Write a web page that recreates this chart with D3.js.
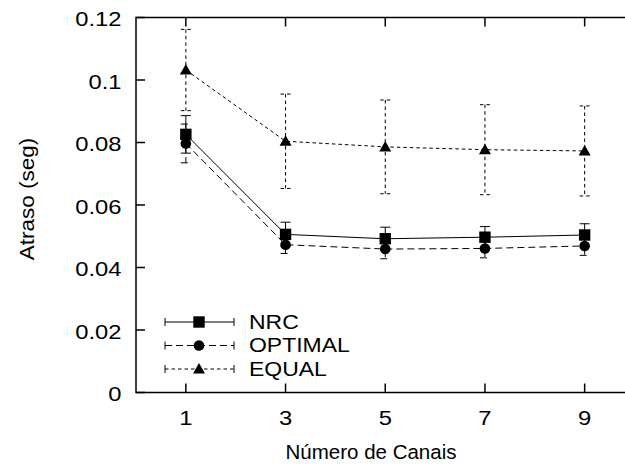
<!DOCTYPE html>
<html>
<head>
<meta charset="utf-8">
<script src="https://cdn.jsdelivr.net/npm/d3@7"></script>
<style>
  html, body { margin: 0; padding: 0; background: #fff; }
  svg { display: block; font-family: "Liberation Sans", Arial, Helvetica, sans-serif; }
</style>
</head>
<body>
<svg id="chart" width="625" height="468"></svg>
<script>
// Number of channels on the x axis
const channels = [1, 3, 5, 7, 9];

// Mean delay (seconds) and half-width of the error bar for each scheme
const nrcMean = [0.0826, 0.0506, 0.0492, 0.0497, 0.0504];
const nrcErr = [0.0060, 0.0039, 0.0037, 0.0034, 0.0036];
const optimalMean = [0.0797, 0.0473, 0.0459, 0.0461, 0.0469];
const optimalErr = [0.0062, 0.0028, 0.0031, 0.0030, 0.0030];
const equalMean = [0.1032, 0.0804, 0.0786, 0.0777, 0.0773];
const equalErr = [0.0130, 0.0151, 0.0150, 0.0144, 0.0144];

const seriesNames = ["NRC", "OPTIMAL", "EQUAL"];
const xTicks = [1, 3, 5, 7, 9];
const yTicks = [0, 0.02, 0.04, 0.06, 0.08, 0.1, 0.12];

const svg = d3.select("#chart");
const plotLeft = 136, plotRight = 634.5, plotTop = 17.5, plotBottom = 392.5;
const fontSize = 20.5;
const tickStretch = 1.16;
const legendStretch = 1.12;

const x = d3.scaleLinear().domain([0, 10]).range([plotLeft, plotRight]);
const y = d3.scaleLinear().domain([0, 0.12]).range([plotBottom, plotTop]);

const styles = {
  NRC: { dash: null, marker: "square" },
  OPTIMAL: { dash: "7,4", marker: "circle" },
  EQUAL: { dash: "3.5,3", marker: "triangle" }
};

const series = [
  { name: "NRC", mean: nrcMean, err: nrcErr },
  { name: "OPTIMAL", mean: optimalMean, err: optimalErr },
  { name: "EQUAL", mean: equalMean, err: equalErr }
];

function drawMarker(g, kind, cx, cy) {
  if (kind === "square") {
    g.append("rect").attr("x", cx - 5.7).attr("y", cy - 5.7).attr("width", 11.4).attr("height", 11.4).attr("fill", "#000");
  } else if (kind === "circle") {
    g.append("circle").attr("cx", cx).attr("cy", cy).attr("r", 5.3).attr("fill", "#000");
  } else {
    g.append("path")
      .attr("d", `M${cx},${cy - 6}L${cx + 6},${cy + 4.5}L${cx - 6},${cy + 4.5}Z`)
      .attr("fill", "#000");
  }
}

function errorBar(g, cx, y0, y1, dash) {
  const eg = g.append("g").attr("stroke", "#000").attr("stroke-width", 1).attr("fill", "none");
  eg.append("line").attr("x1", cx).attr("x2", cx).attr("y1", y0).attr("y2", y1).attr("stroke-dasharray", dash);
  eg.append("line").attr("x1", cx - 5).attr("x2", cx + 5).attr("y1", y0).attr("y2", y0).attr("stroke-dasharray", dash);
  eg.append("line").attr("x1", cx - 5).attr("x2", cx + 5).attr("y1", y1).attr("y2", y1).attr("stroke-dasharray", dash);
}

// Series: lines, error bars, markers (drawn back to front)
[...series].reverse().forEach(s => {
  const st = styles[s.name];
  const g = svg.append("g");
  const pts = channels.map((c, i) => [x(c), y(s.mean[i])]);
  g.append("path")
    .attr("d", d3.line()(pts))
    .attr("fill", "none")
    .attr("stroke", "#000")
    .attr("stroke-width", 1)
    .attr("stroke-dasharray", st.dash);
  channels.forEach((c, i) => {
    errorBar(g, x(c), y(s.mean[i] + s.err[i]), y(s.mean[i] - s.err[i]), st.dash);
  });
  channels.forEach((c, i) => drawMarker(g, st.marker, x(c), y(s.mean[i])));
});

// Frame and ticks
const axisG = svg.append("g").attr("stroke", "#000").attr("stroke-width", 1.5);
axisG.append("rect")
  .attr("x", plotLeft).attr("y", plotTop)
  .attr("width", plotRight - plotLeft).attr("height", plotBottom - plotTop)
  .attr("fill", "none");

xTicks.forEach(t => {
  axisG.append("line").attr("x1", x(t)).attr("x2", x(t)).attr("y1", plotBottom).attr("y2", plotBottom - 9);
  axisG.append("line").attr("x1", x(t)).attr("x2", x(t)).attr("y1", plotTop).attr("y2", plotTop + 9);
});
yTicks.forEach(t => {
  axisG.append("line").attr("x1", plotLeft).attr("x2", plotLeft + 9).attr("y1", y(t)).attr("y2", y(t));
});

// Tick labels (slightly widened glyphs)
svg.append("g").selectAll("text").data(xTicks).join("text")
  .attr("transform", d => `translate(${x(d)},425) scale(${tickStretch},1)`)
  .attr("text-anchor", "middle")
  .attr("font-size", fontSize)
  .text(d => d);

svg.append("g").selectAll("text").data(yTicks).join("text")
  .attr("transform", d => `translate(121.5,${y(d) + 8.5}) scale(${tickStretch},1)`)
  .attr("text-anchor", "end")
  .attr("font-size", fontSize)
  .text(d => d3.format("~g")(d));

// Axis titles
svg.append("text")
  .attr("x", 371).attr("y", 458.5)
  .attr("text-anchor", "middle")
  .attr("font-size", fontSize)
  .text("Número de Canais");

svg.append("text")
  .attr("transform", "translate(34,199) rotate(-90) scale(1.1,1)")
  .attr("text-anchor", "middle")
  .attr("font-size", fontSize)
  .text("Atraso (seg)");

// Legend
const legendRows = [322, 345.5, 369];
seriesNames.forEach((name, i) => {
  const st = styles[name];
  const g = svg.append("g");
  const ly = legendRows[i];
  const lg = g.append("g").attr("stroke", "#000").attr("stroke-width", 1);
  lg.append("line").attr("x1", 165).attr("x2", 234).attr("y1", ly).attr("y2", ly).attr("stroke-dasharray", st.dash);
  lg.append("line").attr("x1", 165).attr("x2", 165).attr("y1", ly - 4).attr("y2", ly + 4);
  lg.append("line").attr("x1", 234).attr("x2", 234).attr("y1", ly - 4).attr("y2", ly + 4);
  drawMarker(g, st.marker, 199, ly);
  g.append("text")
    .attr("transform", `translate(249,${ly + 6.5}) scale(${legendStretch},1)`)
    .attr("font-size", fontSize)
    .text(name);
});
</script>
</body>
</html>
